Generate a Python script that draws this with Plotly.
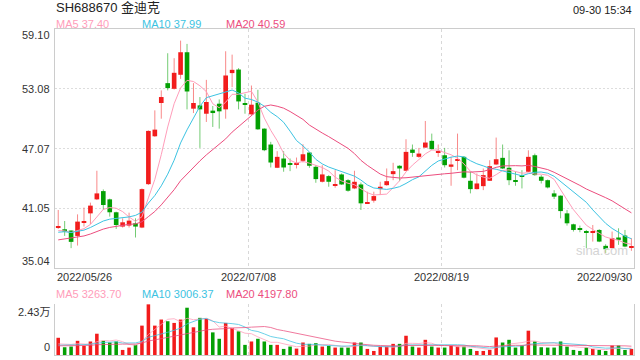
import plotly.graph_objects as go
import pandas as pd

title_text = "SH688670 金迪克"
time_text = "09-30 15:34"
date_labels = ["2022/05/26", "2022/07/08", "2022/08/19", "2022/09/30"]
date_label_pos = [None, 29.5, 59.5, None]
price_ticks = [59.10, 53.08, 47.07, 41.05, 35.04]
vol_ticks = [24300, 0]
vol_tick_labels = ["2.43万", "0"]
ma_price_labels = ["MA5 37.40", "MA10 37.99", "MA20 40.59"]
ma_vol_labels = ["MA5 3263.70", "MA10 3006.37", "MA20 4197.80"]

open_ = [39.15, 38.94, 38.81, 38.27, 39.65, 40.54, 41.95, 42.78, 41.95, 40.65,
         39.21, 39.31, 39.54, 39.11, 43.48, 48.30, 51.65, 53.65, 53.08, 54.49,
         56.76, 51.08, 51.41, 50.57, 50.88, 51.58, 51.01, 54.66, 55.02, 51.50,
         50.51, 51.68, 49.07, 47.47, 45.13, 46.06, 45.50, 45.47, 45.83, 46.66,
         45.23, 43.72, 44.29, 43.36, 44.46, 43.88, 43.05, 43.45, 41.53, 41.82,
         42.98, 43.38, 44.49, 45.33, 44.83, 46.96, 46.23, 47.16, 47.84, 46.64,
         46.39, 45.23, 45.87, 46.23, 43.82, 42.98, 43.28, 43.82, 45.46, 46.13,
         45.13, 43.74, 44.31, 44.73, 46.39, 44.23, 43.88, 42.55, 42.32, 40.54,
         39.44, 38.99, 38.63, 38.59, 38.87, 37.27, 37.04, 38.11, 38.31, 37.08]
high = [40.88, 39.77, 38.84, 40.44, 41.12, 41.62, 44.83, 42.95, 42.02, 40.71,
        40.04, 40.61, 40.04, 43.05, 48.90, 50.91, 52.92, 56.66, 56.16, 57.93,
        57.60, 53.65, 52.25, 53.98, 51.35, 52.01, 56.86, 56.52, 55.16, 52.58,
        53.41, 52.98, 49.10, 47.74, 46.80, 46.80, 46.06, 46.16, 47.50, 46.73,
        45.39, 45.39, 44.39, 44.89, 44.56, 43.99, 44.83, 43.65, 42.72, 42.72,
        43.72, 45.06, 45.63, 45.39, 48.00, 47.47, 47.13, 49.84, 48.57, 47.47,
        47.13, 46.23, 48.57, 46.30, 44.73, 44.56, 45.06, 45.89, 48.17, 47.47,
        46.89, 44.73, 44.89, 46.89, 46.56, 44.39, 43.95, 42.88, 42.35, 40.88,
        39.50, 39.31, 38.87, 39.37, 38.95, 37.43, 38.71, 39.04, 38.87, 38.04]
low = [38.97, 38.27, 37.04, 37.30, 39.21, 39.44, 41.88, 40.88, 40.21, 38.97,
       39.11, 39.11, 38.11, 39.05, 43.40, 48.24, 50.07, 52.92, 53.00, 54.08,
       51.01, 50.64, 47.13, 49.74, 49.24, 49.07, 50.07, 53.25, 51.01, 50.57,
       50.41, 48.95, 46.80, 45.16, 45.10, 44.73, 44.79, 45.06, 45.66, 45.13,
       43.62, 43.65, 43.22, 43.12, 43.40, 42.72, 42.98, 40.88, 41.48, 41.62,
       42.38, 43.32, 43.88, 43.78, 44.80, 46.23, 46.13, 47.16, 46.95, 46.23,
       45.16, 43.32, 44.89, 44.06, 42.55, 42.95, 42.88, 43.80, 45.40, 45.00,
       43.38, 43.32, 43.05, 44.70, 44.33, 43.55, 43.05, 41.98, 40.04, 39.31,
       38.71, 38.64, 37.04, 37.70, 37.64, 36.53, 37.00, 37.37, 37.13, 36.77]
close = [39.21, 38.71, 37.67, 39.71, 39.72, 41.32, 42.55, 41.38, 40.65, 39.37,
         39.64, 39.81, 39.21, 42.98, 48.84, 48.97, 52.25, 53.15, 54.69, 56.76,
         52.81, 51.65, 51.01, 51.75, 50.64, 50.81, 54.42, 54.99, 51.81, 51.46,
         51.48, 49.00, 46.90, 45.66, 46.23, 45.16, 45.48, 45.50, 46.49, 45.33,
         43.99, 44.46, 43.72, 43.40, 43.45, 42.82, 43.72, 41.55, 41.57, 42.28,
         43.22, 43.78, 44.79, 45.06, 46.73, 46.63, 46.56, 47.67, 47.00, 46.68,
         45.39, 45.46, 45.91, 44.13, 42.98, 43.55, 44.39, 45.29, 45.99, 45.06,
         43.88, 43.71, 44.28, 46.23, 44.39, 43.82, 43.15, 42.22, 40.77, 39.54,
         38.87, 38.95, 38.60, 38.62, 37.70, 36.93, 38.04, 37.87, 37.20, 37.10]
volume = [8206, 3700, 4022, 6758, 4344, 6436, 10137, 6758, 5953, 6436,
          2413, 3540, 4827, 14000, 24135, 14000, 16895, 16090, 15286, 16895,
          22526, 13194, 17699, 17216, 10780, 7723, 15286, 12872, 11263, 4827,
          6436, 7723, 6436, 4827, 4827, 2896, 4022, 3057, 5953, 5310,
          5632, 4022, 4344, 3540, 3540, 3540, 5953, 5953, 2896, 1931,
          4022, 4022, 5310, 5310, 9171, 4022, 3540, 7241, 4022, 3540,
          3540, 4505, 4022, 4022, 2896, 1931, 1931, 2413, 8367, 5953,
          7241, 3540, 4505, 11585, 6436, 3700, 3540, 3540, 6436, 4022,
          2413, 1931, 3540, 2896, 2413, 1931, 4505, 4505, 2413, 2896]
# closes / volumes of the 19 sessions before the window (estimated from MA start levels)
prior_close = [36.8, 37.0, 36.9, 37.2, 37.4, 37.1, 36.9, 37.3, 37.2, 37.2,
               38.2, 38.4, 38.6, 38.5, 38.65, 38.9, 38.5, 38.8, 38.64]
prior_volume = [3800, 4200, 4100, 3900, 4300, 3700, 4000, 4200, 4000, 4020,
                3900, 4100, 4000, 4110, 4000, 4600, 4500, 4744, 4500]

UP = "#f21b1b"
DOWN = "#04a004"
UP_W = "rgba(242,40,40,0.55)"
DOWN_W = "rgba(0,160,0,0.55)"
C_MA5 = "#ff9dba"
C_MA10 = "#3cc3e2"
C_MA20 = "#ec4d7e"
FONT = "Liberation Sans, Arial, Noto Sans CJK SC"

n = len(close)
x = list(range(n))
up = [c >= o for o, c in zip(open_, close)]
cols = [UP if u else DOWN for u in up]

cs = pd.Series(prior_close + close)
vs = pd.Series(prior_volume + volume)
k = len(prior_close)
ma = {p: cs.rolling(p).mean().tolist()[k:] for p in (5, 10, 20)}
vma = {p: vs.rolling(p).mean().tolist()[k:] for p in (5, 10, 20)}

fig = go.Figure()

# wicks
for flag, col in ((True, UP_W), (False, DOWN_W)):
    wx, wy = [], []
    for i in range(n):
        if up[i] == flag:
            wx += [i, i, None]
            wy += [low[i], high[i], None]
    fig.add_trace(go.Scatter(x=wx, y=wy, mode="lines", line=dict(color=col, width=1),
                             hoverinfo="skip", xaxis="x", yaxis="y"))

# bodies
base = [min(o, c) for o, c in zip(open_, close)]
hgt = [max(abs(c - o), 0.1) for o, c in zip(open_, close)]
fig.add_trace(go.Bar(x=x, y=hgt, base=base, width=0.72, marker=dict(color=cols, line=dict(width=0)),
                     xaxis="x", yaxis="y"))

for p, col in ((5, C_MA5), (10, C_MA10), (20, C_MA20)):
    fig.add_trace(go.Scatter(x=x, y=ma[p], mode="lines", line=dict(color=col, width=1),
                             xaxis="x", yaxis="y"))

# volume
fig.add_trace(go.Bar(x=x, y=volume, width=0.55, marker=dict(color=cols, line=dict(width=0)),
                     xaxis="x2", yaxis="y2"))
for p, col in ((5, C_MA5), (10, C_MA10), (20, C_MA20)):
    fig.add_trace(go.Scatter(x=x, y=vma[p], mode="lines", line=dict(color=col, width=1),
                             opacity=0.75, xaxis="x2", yaxis="y2"))

H = 326.0
def py(Y):
    return (355 - Y) / H

xr = [-0.5, 89.4]
fig.update_layout(
    width=640, height=360, margin=dict(l=55, r=6, t=29, b=5),
    paper_bgcolor="white", plot_bgcolor="white", showlegend=False,
    barmode="overlay", font=dict(family=FONT, size=11, color="#333"),
    xaxis=dict(domain=[0, 1], range=xr, anchor="y", tickvals=[29.5, 59.5], showticklabels=False,
               showgrid=True, gridcolor="#d8d8d8", griddash="3px,3px", gridwidth=1,
               showline=True, linecolor="#cccccc", mirror=True, zeroline=False, ticks=""),
    yaxis=dict(domain=[py(268), 1], range=[price_ticks[-1], price_ticks[0]], anchor="x",
               tickvals=price_ticks[1:-1], showticklabels=False, showgrid=True,
               gridcolor="#dddddd", griddash="2px,2px", gridwidth=1,
               showline=True, linecolor="#cccccc", mirror=True, zeroline=False, ticks=""),
    xaxis2=dict(domain=[0, 1], range=xr, anchor="y2", tickvals=[29.5, 59.5], showticklabels=False,
                showgrid=True, gridcolor="#d8d8d8", griddash="3px,3px", gridwidth=1,
                showline=True, linecolor="#cccccc", mirror=False, zeroline=False, ticks=""),
    yaxis2=dict(domain=[0, py(304)], range=[0, vol_ticks[0]], anchor="x2",
                tickvals=[vol_ticks[0]], showticklabels=False, showgrid=True,
                gridcolor="#d0d0d0", griddash="2px,2px", gridwidth=1,
                showline=True, linecolor="#cccccc", mirror=True, zeroline=False, ticks=""),
)

ann = []
ann.append(dict(text=title_text, xref="paper", yref="paper", x=0, y=py(8), xanchor="left",
                yanchor="middle", showarrow=False, font=dict(size=13, color="#222"), xshift=-1))
ann.append(dict(text=time_text, xref="paper", yref="paper", x=1, y=py(10), xanchor="right",
                yanchor="middle", showarrow=False, font=dict(size=11, color="#222")))
leg_x = [0, (140.7 - 55) / 579, (225 - 55) / 579]
for t, lx, col in zip(ma_price_labels, leg_x, (C_MA5, C_MA10, C_MA20)):
    ann.append(dict(text=t, xref="paper", yref="paper", x=lx, y=py(24), xanchor="left",
                    yanchor="middle", showarrow=False, font=dict(size=11, color=col), xshift=-1))
for t, lx, col in zip(ma_vol_labels, leg_x, (C_MA5, C_MA10, C_MA20)):
    ann.append(dict(text=t, xref="paper", yref="paper", x=lx, y=py(294), xanchor="left",
                    yanchor="middle", showarrow=False, font=dict(size=11, color=col), xshift=-1))
for i, v in enumerate(price_ticks):
    ya = "top" if i == 0 else ("bottom" if i == len(price_ticks) - 1 else "middle")
    ys = 2 if i == 0 else (-1 if i == len(price_ticks) - 1 else 0)
    ann.append(dict(text=f"{v:.2f}", xref="paper", yref="y", x=0, y=v, xanchor="right",
                    yanchor=ya, showarrow=False, xshift=-3, yshift=ys))
for v, t, ya in zip(vol_ticks, vol_tick_labels, ("top", "bottom")):
    ann.append(dict(text=t, xref="paper", yref="y2", x=0, y=v, xanchor="right",
                    yanchor=ya, showarrow=False, xshift=-3))
for t, pos, i in zip(date_labels, date_label_pos, range(4)):
    if pos is None:
        ann.append(dict(text=t, xref="paper", yref="paper", x=0 if i == 0 else 1, y=py(277),
                        xanchor="left" if i == 0 else "right", yanchor="middle", showarrow=False))
    else:
        ann.append(dict(text=t, xref="x", yref="paper", x=pos, y=py(277), xanchor="center",
                        yanchor="middle", showarrow=False))
ann.append(dict(text="sina.com", xref="paper", yref="paper", x=(602 - 55) / 579, y=py(250),
                xanchor="center", yanchor="middle", showarrow=False,
                font=dict(size=13, color="#d4d4d4")))
fig.update_layout(annotations=ann)

fig.write_html("out.html")
